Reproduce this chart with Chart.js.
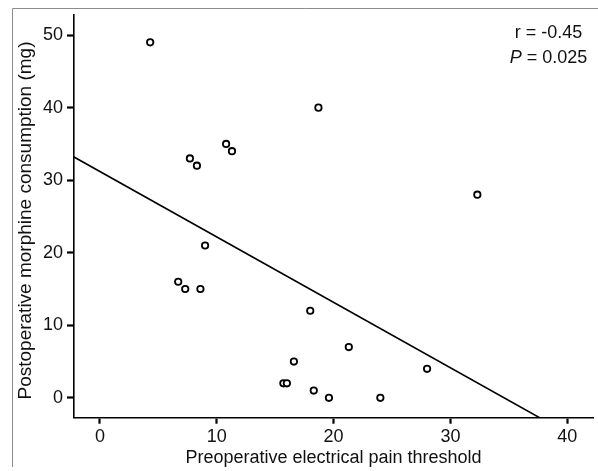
<!DOCTYPE html>
<html lang="en">
<head>
  <meta charset="UTF-8">
  <title>Pain threshold vs morphine consumption</title>
  <script src="https://cdn.jsdelivr.net/npm/chart.js"></script>
  <style>
    body {
      margin: 0;
      padding: 0;
      background-color: #ffffff;
    }

    #chart-container {
      width: 598px;
      height: 471px;
    }
  </style>
</head>
<body>
  <div id="chart-container">
    <canvas id="scatterChart"></canvas>
  </div>

  <script>
    // values
    const painThreshold = [4.3, 7.7, 8.3, 10.8, 11.3, 18.7, 32.3, 9.0, 6.7, 7.3, 8.6, 16.6, 15.7, 16.0, 18.0, 21.3, 28.0, 18.3, 19.6, 24.0];
    const morphineUse   = [49, 33, 32, 35, 34, 40, 28, 21, 16, 15, 15, 5, 2, 2, 12, 7, 4, 1, 0, 0];

    // regression line end points
    const fitX = [-2.22, 37.63];
    const fitY = [33.2, -2.74];

    const xTicks = [0, 10, 20, 30, 40];
    const yTicks = [0, 10, 20, 30, 40, 50];

    const xTitle = 'Preoperative electrical pain threshold';
    const yTitle = 'Postoperative morphine consumption (mg)';
    const statsText = ['r = -0.45', '= 0.025'];

    const FONT = '"Liberation Sans", Arial, sans-serif';

    // grey frame on the left and top, like the original figure box
    const framePlugin = {
      id: 'frame',
      beforeDraw(chart) {
        const ctx = chart.ctx;
        ctx.save();
        ctx.strokeStyle = '#8c8c8c';
        ctx.lineWidth = 1;
        ctx.beginPath();
        ctx.moveTo(12.5, 467);
        ctx.lineTo(12.5, 8.5);
        ctx.lineTo(598, 8.5);
        ctx.stroke();
        ctx.restore();
      }
    };

    // y title is drawn by hand: in the original it sits a bit below the axis centre
    const yTitlePlugin = {
      id: 'yTitle',
      afterDraw(chart) {
        const ctx = chart.ctx;
        ctx.save();
        ctx.translate(26, 220.5);
        ctx.rotate(-Math.PI / 2);
        ctx.fillStyle = '#111';
        ctx.font = '19px ' + FONT;
        ctx.textAlign = 'center';
        ctx.textBaseline = 'middle';
        ctx.fillText(yTitle, 0, 0);
        ctx.restore();
      }
    };

    // r and P values in the top right corner
    const statsPlugin = {
      id: 'stats',
      afterDraw(chart) {
        const ctx = chart.ctx;
        const cx = 548.5;
        ctx.save();
        ctx.fillStyle = '#111';
        ctx.textBaseline = 'middle';
        ctx.textAlign = 'center';
        ctx.font = '18px ' + FONT;
        ctx.fillText(statsText[0], cx, 33);

        const italic = 'italic 18px ' + FONT;
        const normal = '18px ' + FONT;
        ctx.font = italic;
        const wP = ctx.measureText('P').width;
        ctx.font = normal;
        const wRest = ctx.measureText(' ' + statsText[1]).width;
        let x = cx - (wP + wRest) / 2;
        ctx.textAlign = 'left';
        ctx.font = italic;
        ctx.fillText('P', x, 58);
        ctx.font = normal;
        ctx.fillText(' ' + statsText[1], x + wP, 58);
        ctx.restore();
      }
    };

    const ctx = document.getElementById('scatterChart').getContext('2d');

    new Chart(ctx, {
      type: 'scatter',
      data: {
        datasets: [
          {
            label: 'Patients',
            data: painThreshold.map((x, i) => ({ x: x, y: morphineUse[i] })),
            pointRadius: 3.2,
            pointBorderWidth: 1.8,
            borderColor: '#000',
            backgroundColor: '#fff',
            pointHoverRadius: 3.2,
          },
          {
            label: 'Fit',
            type: 'line',
            data: fitX.map((x, i) => ({ x: x, y: fitY[i] })),
            borderColor: '#000',
            borderWidth: 1.6,
            pointRadius: 0,
            fill: false,
          },
        ],
      },
      options: {
        responsive: true,
        maintainAspectRatio: false,
        animation: false,
        layout: {
          padding: { left: 0, top: 13, right: 4, bottom: 0 },
        },
        plugins: {
          legend: { display: false },
          tooltip: { enabled: false },
        },
        scales: {
          x: {
            type: 'linear',
            min: -2.22,
            max: 42.2,
            afterFit: s => { s.height = 53.3; },
            afterBuildTicks: s => { s.ticks = xTicks.map(v => ({ value: v })); },
            border: { color: '#000', width: 1.6 },
            grid: {
              drawOnChartArea: false,
              tickLength: 6,
              tickWidth: 2.2,
              tickColor: '#000',
            },
            ticks: {
              color: '#111',
              padding: 3,
              font: { family: FONT, size: 18 },
            },
            title: {
              display: true,
              text: xTitle,
              color: '#111',
              padding: { top: 0, bottom: 2.5 },
              font: { family: FONT, size: 18 },
            },
          },
          y: {
            type: 'linear',
            min: -2.74,
            max: 52.8,
            afterFit: s => { s.width = 74; },
            afterBuildTicks: s => { s.ticks = yTicks.map(v => ({ value: v })); },
            border: { color: '#000', width: 1.6 },
            grid: {
              drawOnChartArea: false,
              tickLength: 7,
              tickWidth: 2.2,
              tickColor: '#000',
            },
            ticks: {
              color: '#111',
              padding: 4,
              font: { family: FONT, size: 18 },
            },
          },
        },
      },
      plugins: [framePlugin, yTitlePlugin, statsPlugin],
    });
  </script>
</body>
</html>
